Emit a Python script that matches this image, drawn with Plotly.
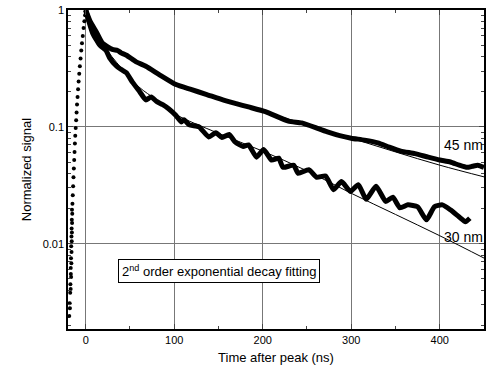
import math
import plotly.graph_objects as go

# Rising edge (sparse dots), shared by both samples
rise_t = [-18.6, -18.1, -17.8, -17.5, -17.3, -17.0, -16.8, -16.5, -16.9, -16.2, -16.6, -16.0,
          -16.4, -15.8, -16.1, -15.6, -15.9, -15.4, -15.7, -15.2, -15.5, -15.0, -14.6, -14.2,
          -13.8, -13.4, -13.0, -12.6, -12.2, -11.8, -11.3, -10.8, -10.3, -9.8, -9.2, -8.6,
          -8.0, -7.3, -6.6, -5.8, -5.0, -4.2, -3.3, -2.4, -1.5, -0.7, 0.0]
rise_y = [0.0024, 0.0031, 0.0028, 0.0038, 0.0045, 0.0041, 0.0055, 0.0052, 0.0062, 0.0068,
          0.0075, 0.0085, 0.0095, 0.0105, 0.0115, 0.0125, 0.0135, 0.015, 0.016, 0.018, 0.0195,
          0.022, 0.026, 0.031, 0.037, 0.044, 0.052, 0.061, 0.072, 0.084, 0.098, 0.114, 0.133,
          0.155, 0.18, 0.21, 0.245, 0.285, 0.33, 0.385, 0.45, 0.52, 0.6, 0.7, 0.8, 0.9, 1.0]

# 45 nm measured decay
t45 = [0, 5, 12, 19, 30, 36, 40, 46, 57, 68, 83, 102, 118, 136, 155, 170, 184, 203, 229,
       244, 262, 274, 287, 300, 315, 330, 343, 356, 372, 387, 400, 412, 422, 431, 437, 443, 450]
y45 = [1.0, 0.8, 0.65, 0.52, 0.46, 0.45, 0.43, 0.41, 0.36, 0.33, 0.28, 0.23, 0.21, 0.19,
       0.17, 0.158, 0.148, 0.135, 0.112, 0.108, 0.097, 0.09, 0.084, 0.08, 0.077, 0.073, 0.067,
       0.062, 0.059, 0.055, 0.052, 0.05, 0.047, 0.045, 0.046, 0.047, 0.045]

# 30 nm measured decay
t30 = [0, 4, 8, 16, 23, 27, 35, 40, 46, 53, 61, 68, 74, 80, 87, 94, 102, 108, 111, 117, 128,
       139, 147, 154, 162, 169, 178, 184, 193, 201, 210, 218, 223, 235, 240, 252, 261, 271,
       280, 289, 299, 308, 317, 328, 339, 347, 355, 364, 375, 385, 394, 403, 412, 422, 429, 434]
y30 = [1.0, 0.78, 0.63, 0.5, 0.45, 0.39, 0.33, 0.31, 0.29, 0.24, 0.2, 0.17, 0.18, 0.165,
       0.155, 0.142, 0.125, 0.11, 0.115, 0.104, 0.1, 0.082, 0.089, 0.081, 0.086, 0.074, 0.068,
       0.07, 0.055, 0.064, 0.052, 0.054, 0.045, 0.047, 0.04, 0.043, 0.037, 0.038, 0.029, 0.034,
       0.028, 0.032, 0.024, 0.031, 0.023, 0.025, 0.0203, 0.0215, 0.0207, 0.016, 0.0207, 0.0215,
       0.0195, 0.0169, 0.0154, 0.0165]

# Fitted curves
fit_t = [0, 10, 20, 40, 60, 80, 100, 150, 200, 250, 300, 350, 400, 452]
fit45 = [1.0, 0.7, 0.52, 0.42, 0.35, 0.29, 0.235, 0.175, 0.135, 0.105, 0.08, 0.061, 0.047, 0.037]
fit30 = [1.0, 0.68, 0.5, 0.32, 0.22, 0.17, 0.13, 0.088, 0.062, 0.042, 0.027, 0.0178, 0.0117, 0.0074]

x_ticks = [0, 100, 200, 300, 400]
x_minor = [50, 150, 250, 350]
y_ticks = [1, 0.1, 0.01]
y_tick_text = ["1", "0.1", "0.01"]
y_minor = [m * d for d in (0.001, 0.01, 0.1) for m in range(2, 10)]

label_45 = ("45 nm", 427, 0.070)
label_30 = ("30 nm", 427, 0.0115)

FONT = "Liberation Sans, Arial, sans-serif"

fig = go.Figure()
fig.add_trace(go.Scatter(x=rise_t, y=rise_y, mode="markers",
                         marker=dict(color="black", size=4)))
fig.add_trace(go.Scatter(x=t45, y=y45, mode="lines",
                         line=dict(color="black", width=5, shape="spline", smoothing=0.5)))
fig.add_trace(go.Scatter(x=t30, y=y30, mode="lines",
                         line=dict(color="black", width=5, shape="spline", smoothing=0.5)))
fig.add_trace(go.Scatter(x=fit_t, y=fit45, mode="lines",
                         line=dict(color="black", width=1, shape="spline")))
fig.add_trace(go.Scatter(x=fit_t, y=fit30, mode="lines",
                         line=dict(color="black", width=1, shape="spline")))

for txt, lx, ly in (label_45, label_30):
    fig.add_annotation(x=lx, y=math.log10(ly), text=txt, showarrow=False, xanchor="center",
                       yanchor="middle", font=dict(family=FONT, size=14, color="black"))
fig.add_annotation(xref="paper", yref="paper", x=0.363, y=0.144,
                   text="2<sup>nd</sup> order exponential decay fitting", showarrow=False,
                   font=dict(family=FONT, size=13, color="black"),
                   bordercolor="black", borderwidth=1, borderpad=3, bgcolor="white")

fig.update_layout(
    width=489, height=380,
    margin=dict(l=68, r=3, t=10, b=51),
    paper_bgcolor="white", plot_bgcolor="white",
    showlegend=False,
    font=dict(family=FONT, color="black", size=12),
)
fig.update_xaxes(range=[-20, 450], tickvals=x_ticks, ticks="inside", ticklen=5,
                 showline=True, linecolor="black", linewidth=1.5, mirror="ticks",
                 showgrid=True, gridcolor="#777", gridwidth=1, zeroline=False,
                 tickfont=dict(size=11),
                 minor=dict(ticks="inside", ticklen=3, tickvals=x_minor, showgrid=False),
                 title=dict(text="Time after peak (ns)", font=dict(size=13), standoff=8))
fig.update_yaxes(type="log", range=[-2.73, 0], tickvals=y_ticks, ticktext=y_tick_text,
                 ticks="inside", ticklen=5, showline=True, linecolor="black", linewidth=1.5,
                 mirror="ticks", showgrid=True, gridcolor="#777", gridwidth=1, zeroline=False,
                 tickfont=dict(size=11),
                 minor=dict(ticks="inside", ticklen=3, tickvals=y_minor, showgrid=False),
                 title=dict(text="Normalized signal", font=dict(size=13), standoff=8))

fig.write_html("out.html")
